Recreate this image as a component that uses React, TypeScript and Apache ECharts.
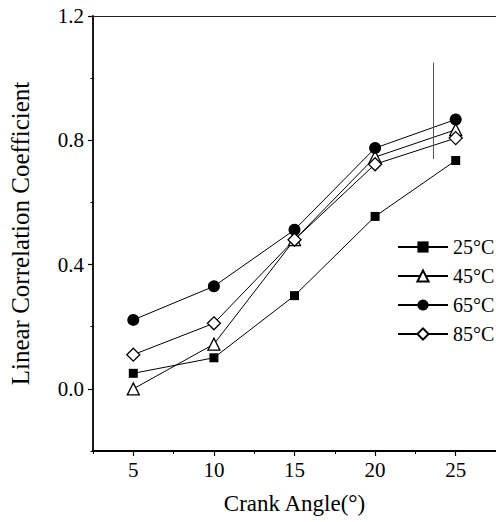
import React, { useEffect, useRef } from "react";
import * as echarts from "echarts";

const crankAngles = [5, 10, 15, 20, 25];
const seriesNames = ["25°C", "45°C", "65°C", "85°C"];
const values25 = [0.05, 0.1, 0.3, 0.555, 0.735];
const values45 = [0.0, 0.144, 0.48, 0.746, 0.834];
const values65 = [0.222, 0.33, 0.512, 0.775, 0.867];
const values85 = [0.11, 0.211, 0.48, 0.723, 0.807];
const yMajorTicks = [0, 0.4, 0.8, 1.2];
const yMinorTicks = [-0.2, 0.2, 0.6, 1.0];
const xMajorTicks = [5, 10, 15, 20, 25];
const xMinorTicks = [2.5, 7.5, 12.5, 17.5, 22.5];
const artifactX = 23.6;
const artifactY = [1.05, 0.74];

const FONT = '"Liberation Serif", "Times New Roman", serif';

export default function App() {
  const ref = useRef<HTMLDivElement>(null);
  useEffect(() => {
    if (!ref.current) return;
    const chart = echarts.init(ref.current, null, { renderer: "svg" });
    const axisLine = { show: true, onZero: false, lineStyle: { color: "#000", width: 1.8 } };
    const mk = (name: string, data: number[], symbol: string, size: number, filled: boolean) => ({
      name,
      type: "line",
      data: crankAngles.map((x, i) => [x, data[i]]),
      symbol,
      symbolSize: size,
      showAllSymbol: true,
      lineStyle: { color: "#000", width: 1 },
      itemStyle: filled
        ? { color: "#000", borderColor: "#000", borderWidth: 0 }
        : { color: "#fff", borderColor: "#000", borderWidth: 1.3 },
      z: 3,
    });
    const series: any[] = [
      mk(seriesNames[0], values25, "rect", 9, true),
      mk(seriesNames[1], values45, "triangle", 12, false),
      mk(seriesNames[2], values65, "circle", 12, true),
      mk(seriesNames[3], values85, "diamond", 13, false),
    ];
    series[0].markLine = {
      silent: true,
      symbol: "none",
      label: { show: false },
      lineStyle: { color: "#555", width: 1, type: "solid" },
      data: [[{ coord: [artifactX, artifactY[0]] }, { coord: [artifactX, artifactY[1]] }]],
    };
    const hiddenAxisBits = { axisLabel: { show: false }, splitLine: { show: false } };
    chart.setOption({
      animation: false,
      backgroundColor: "#fff",
      textStyle: { fontFamily: FONT },
      grid: { left: 92, top: 16, right: -1, bottom: 71 },
      legend: {
        orient: "vertical",
        left: 392,
        top: 232,
        itemWidth: 50,
        itemHeight: 14,
        itemGap: 9,
        data: seriesNames,
        textStyle: { fontFamily: FONT, fontSize: 20, color: "#000", lineHeight: 19 },
      },
      xAxis: [
        {
          type: "value",
          min: 2.5,
          max: 27.5,
          name: "Crank Angle(°)",
          nameLocation: "middle",
          nameGap: 41,
          nameTextStyle: { fontFamily: FONT, fontSize: 23, color: "#000" },
          axisLine,
          axisTick: { show: true, length: 5, inside: false, customValues: xMajorTicks, lineStyle: { color: "#000", width: 1.2 } },
          axisLabel: { customValues: xMajorTicks, fontFamily: FONT, fontSize: 21, color: "#000", margin: 8 },
          splitLine: { show: false },
        },
        {
          type: "value",
          min: 2.5,
          max: 27.5,
          position: "bottom",
          axisLine: { show: false, onZero: false },
          axisTick: { show: true, length: 3, customValues: xMinorTicks, lineStyle: { color: "#000", width: 1 } },
          ...hiddenAxisBits,
        },
        {
          type: "value",
          min: 2.5,
          max: 27.5,
          position: "top",
          axisLine: { show: true, onZero: false, lineStyle: { color: "#222", width: 1 } },
          axisTick: { show: false },
          ...hiddenAxisBits,
        },
      ],
      yAxis: [
        {
          type: "value",
          min: -0.2,
          max: 1.2,
          name: "Linear Correlation Coefficient",
          nameLocation: "middle",
          nameGap: 60,
          nameTextStyle: { fontFamily: FONT, fontSize: 25, color: "#000" },
          axisLine,
          axisTick: { show: true, length: 5, customValues: yMajorTicks, lineStyle: { color: "#000", width: 1.2 } },
          axisLabel: {
            customValues: yMajorTicks,
            fontFamily: FONT,
            fontSize: 21,
            color: "#000",
            margin: 9,
            formatter: (v: number) => v.toFixed(1),
          },
          splitLine: { show: false },
        },
        {
          type: "value",
          min: -0.2,
          max: 1.2,
          position: "left",
          axisLine: { show: false, onZero: false },
          axisTick: { show: true, length: 2.5, customValues: yMinorTicks, lineStyle: { color: "#000", width: 1 } },
          ...hiddenAxisBits,
        },
      ],
      series,
    });
    return () => chart.dispose();
  }, []);
  return <div ref={ref} style={{ position: "absolute", left: 0, top: 0, width: 496, height: 522 }} />;
}
